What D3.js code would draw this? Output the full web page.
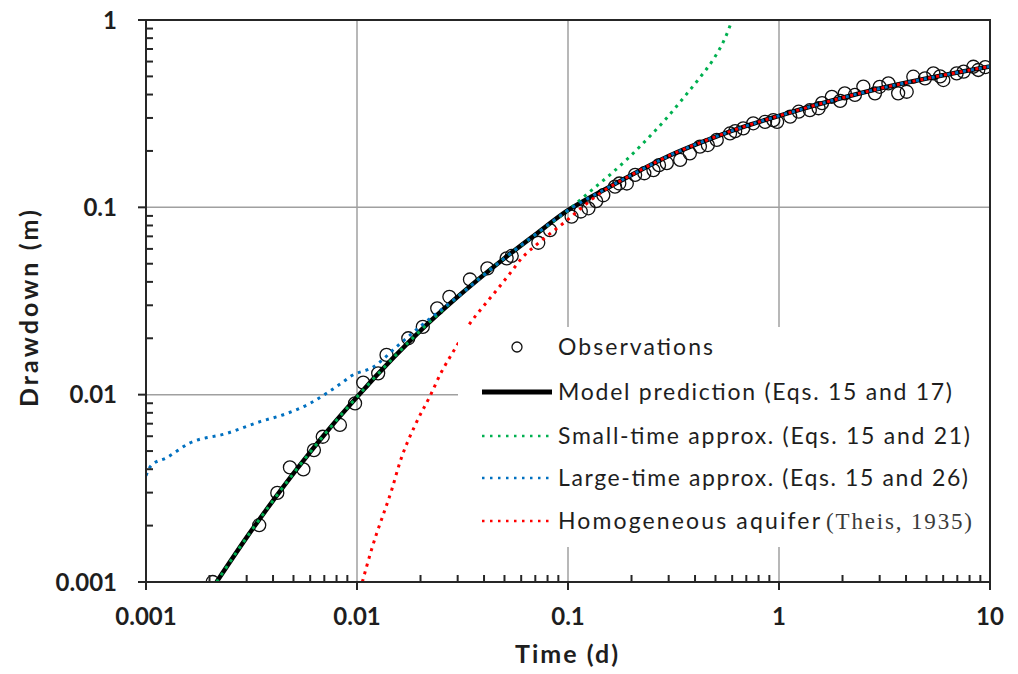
<!DOCTYPE html>
<html>
<head>
<meta charset="utf-8">
<script src="https://cdn.jsdelivr.net/npm/d3@7/dist/d3.min.js"></script>
<style>
  html, body { margin: 0; padding: 0; background: #fff; }
  svg { display: block; }
</style>
</head>
<body>
<svg id="chart" width="1018" height="674"></svg>
<script>
// ---------- DATA ----------
const xTickValues = [0.001, 0.01, 0.1, 1, 10];
const xTickLabels = ["0.001", "0.01", "0.1", "1", "10"];
const yTickValues = [0.001, 0.01, 0.1, 1];
const yTickLabels = ["0.001", "0.01", "0.1", "1"];

// Observations (time in d, drawdown in m)
const obsTime = [0.00207, 0.00344, 0.00419, 0.00481, 0.00557, 0.00625, 0.00688, 0.0083, 0.00979, 0.0107,
  0.0126, 0.0138, 0.0175, 0.0205, 0.024, 0.0274, 0.0343, 0.0415, 0.0512, 0.0541, 0.0723, 0.0822,
  0.104, 0.115, 0.125, 0.136, 0.147, 0.167, 0.175, 0.19, 0.208, 0.23, 0.254, 0.27, 0.294, 0.34, 0.378,
  0.422, 0.46, 0.507, 0.586, 0.62, 0.677, 0.755, 0.859, 0.94, 0.98, 1.13, 1.24, 1.4, 1.54, 1.6, 1.78,
  1.95, 2.05, 2.29, 2.51, 2.85, 3.0, 3.3, 3.67, 4.03, 4.33, 4.92, 5.39, 5.8, 6.01, 6.95, 7.5, 8.34, 8.8, 9.5];
const obsDrawdown = [0.001, 0.00201, 0.00299, 0.00409, 0.00399, 0.00506, 0.00596, 0.00689, 0.00898, 0.0116,
  0.013, 0.0163, 0.020, 0.023, 0.0289, 0.0333, 0.0412, 0.0472, 0.0534, 0.055, 0.0647, 0.0756,
  0.0891, 0.095, 0.0988, 0.108, 0.116, 0.129, 0.134, 0.134, 0.149, 0.152, 0.158, 0.168, 0.172, 0.179, 0.194,
  0.211, 0.215, 0.229, 0.248, 0.255, 0.264, 0.281, 0.286, 0.292, 0.286, 0.305, 0.324, 0.33, 0.338, 0.36, 0.389,
  0.37, 0.406, 0.398, 0.441, 0.406, 0.44, 0.459, 0.406, 0.414, 0.498, 0.488, 0.519, 0.5, 0.478, 0.519, 0.53, 0.563, 0.541, 0.56];

// Model prediction (Eqs. 15 and 17)
const modelTime = [0.00216, 0.003, 0.004, 0.005, 0.006, 0.007, 0.008, 0.01, 0.015, 0.02, 0.03, 0.05, 0.07,
  0.1, 0.15, 0.2, 0.3, 0.5, 0.7, 1, 2, 3, 5, 7, 10];
const modelDrawdown = [0.001, 0.00173, 0.00272, 0.0038, 0.00494, 0.00611, 0.00731, 0.00973, 0.0159, 0.022, 0.0333, 0.0535, 0.0715,
  0.0965, 0.125, 0.149, 0.188, 0.238, 0.272, 0.308, 0.3845, 0.4307, 0.487, 0.5245, 0.5655];

// Small-time approx. (Eqs. 15 and 21)
const smallTime = [0.00216, 0.003, 0.004, 0.005, 0.006, 0.007, 0.008, 0.01, 0.015, 0.02, 0.03, 0.05, 0.07,
  0.1, 0.13, 0.16, 0.19, 0.22, 0.25, 0.29, 0.35, 0.42, 0.49, 0.555, 0.6];
const smallDrawdown = [0.001, 0.00173, 0.00272, 0.0038, 0.00494, 0.00611, 0.00731, 0.00973, 0.0159, 0.022, 0.0333, 0.0535, 0.0715,
  0.0965, 0.124, 0.151, 0.18, 0.212, 0.246, 0.295, 0.38, 0.49, 0.62, 0.8, 1.0];

// Large-time approx. (Eqs. 15 and 26)
const largeTime = [0.001, 0.00106, 0.00125, 0.0016, 0.0024, 0.0035, 0.0046, 0.006, 0.0072, 0.0086, 0.0093,
  0.012, 0.0154, 0.02, 0.03, 0.05, 0.07, 0.1, 0.15, 0.2, 0.3, 0.5, 0.7, 1, 2, 3, 5, 7, 10];
const largeDrawdown = [0.0037, 0.0042, 0.0046, 0.0055, 0.0062, 0.0072, 0.0079, 0.0090, 0.0102, 0.0117, 0.0125,
  0.0141, 0.018, 0.0232, 0.0333, 0.0535, 0.0715, 0.0965, 0.125, 0.149, 0.188, 0.238, 0.272, 0.308, 0.3845, 0.4307, 0.487, 0.5245, 0.5655];

// Homogeneous aquifer (Theis, 1935)
const theisTime = [0.0106, 0.0117, 0.0124, 0.0133, 0.0146, 0.016, 0.019, 0.0222, 0.0252, 0.0276, 0.0295, 0.0343,
  0.039, 0.0467, 0.0531, 0.0603, 0.0737, 0.095, 0.142, 0.2, 0.3, 0.5, 0.7, 1, 2, 3, 5, 7, 10];
const theisDrawdown = [0.001, 0.00148, 0.00182, 0.00228, 0.0031, 0.00438, 0.0070, 0.00984, 0.0133, 0.0159, 0.018, 0.024,
  0.0289, 0.037, 0.0444, 0.0534, 0.0655, 0.0822, 0.119, 0.149, 0.188, 0.238, 0.272, 0.308, 0.3845, 0.4307, 0.487, 0.5245, 0.5655];

const legendLabels = ["Observations", "Model prediction (Eqs. 15 and 17)", "Small-time approx. (Eqs. 15 and 21)",
  "Large-time approx. (Eqs. 15 and 26)", "Homogeneous aquifer"];
const legendCitation = "(Theis, 1935)";
const xTitle = "Time (d)";
const yTitle = "Drawdown (m)";

// ---------- DRAWING ----------
const svg = d3.select("#chart");
const L = 146, R = 990, T = 20, B = 582;
const x = d3.scaleLog().domain([0.001, 10]).range([L, R]);
const y = d3.scaleLog().domain([0.001, 1]).range([B, T]);

const axisColor = "#262626";
const gridColor = "#a0a0a0";
const textColor = "#1e1e1e";
const font = "Lato, 'Open Sans', sans-serif";

svg.append("defs").append("clipPath").attr("id", "plotclip")
  .append("rect").attr("x", L).attr("y", T).attr("width", R - L).attr("height", B - T);

// gridlines
const grid = svg.append("g");
xTickValues.slice(1, -1).forEach(v => {
  grid.append("line").attr("x1", x(v)).attr("x2", x(v)).attr("y1", T).attr("y2", B)
    .attr("stroke", gridColor).attr("stroke-width", 1.5);
});
yTickValues.slice(1, -1).forEach(v => {
  grid.append("line").attr("x1", L).attr("x2", R).attr("y1", y(v)).attr("y2", y(v))
    .attr("stroke", gridColor).attr("stroke-width", 1.5);
});

// data
const plot = svg.append("g").attr("clip-path", "url(#plotclip)");
const line = d3.line().x(d => x(d[0])).y(d => y(d[1])).curve(d3.curveMonotoneX);
const zip = (a, b) => a.map((v, i) => [v, b[i]]);

plot.selectAll("circle.obs").data(zip(obsTime, obsDrawdown)).enter().append("circle")
  .attr("class", "obs")
  .attr("cx", d => x(d[0])).attr("cy", d => y(d[1])).attr("r", 6.5)
  .attr("fill", "none").attr("stroke", "#111").attr("stroke-width", 1.3);

plot.append("path").datum(zip(modelTime, modelDrawdown)).attr("d", line)
  .attr("fill", "none").attr("stroke", "#000").attr("stroke-width", 4.5);

const dotted = [
  { t: smallTime, d: smallDrawdown, c: "#00b050" },
  { t: largeTime, d: largeDrawdown, c: "#0070c0" },
  { t: theisTime, d: theisDrawdown, c: "#ff0000" }
];
dotted.forEach(s => {
  plot.append("path").datum(zip(s.t, s.d)).attr("d", line)
    .attr("fill", "none").attr("stroke", s.c).attr("stroke-width", 3)
    .attr("stroke-dasharray", "3,5");
});

// legend (white box over the plot)
const leg = svg.append("g");
leg.append("rect").attr("x", 458).attr("y", 327).attr("width", 531).attr("height", 220).attr("fill", "#fff");
const rowsY = [347, 392, 436, 478, 521];
const textLens = [155, 394, 412, 410, 262];
leg.append("circle").attr("cx", 517).attr("cy", rowsY[0]).attr("r", 5)
  .attr("fill", "none").attr("stroke", "#111").attr("stroke-width", 1.3);
leg.append("line").attr("x1", 482).attr("x2", 552).attr("y1", rowsY[1]).attr("y2", rowsY[1])
  .attr("stroke", "#000").attr("stroke-width", 5);
dotted.forEach((s, i) => {
  leg.append("line").attr("x1", 482).attr("x2", 552).attr("y1", rowsY[i + 2]).attr("y2", rowsY[i + 2])
    .attr("stroke", s.c).attr("stroke-width", 2.5).attr("stroke-dasharray", "2.5,5.5");
});
legendLabels.forEach((txt, i) => {
  leg.append("text").attr("x", 558).attr("y", rowsY[i]).attr("dy", "0.36em")
    .attr("font-family", font).attr("font-size", 23).attr("fill", textColor)
    .attr("textLength", textLens[i]).attr("lengthAdjust", "spacing")
    .text(txt);
});
leg.append("text").attr("x", 826).attr("y", rowsY[4]).attr("dy", "0.36em")
  .attr("font-family", "'Liberation Serif', 'DejaVu Serif', serif").attr("font-size", 23).attr("fill", "#3a3a3a")
  .attr("textLength", 146).attr("lengthAdjust", "spacing")
  .text(legendCitation);

// frame
const frame = svg.append("g");
frame.append("rect").attr("x", L).attr("y", T).attr("width", R - L).attr("height", B - T)
  .attr("fill", "none").attr("stroke", axisColor).attr("stroke-width", 2);

// minor and major ticks
for (let dec = 0.001; dec < 10; dec *= 10) {
  for (let m = 2; m <= 9; m++) {
    const v = dec * m;
    frame.append("line").attr("x1", x(v)).attr("x2", x(v)).attr("y1", B).attr("y2", B - 7)
      .attr("stroke", axisColor).attr("stroke-width", 2);
  }
}
for (let dec = 0.001; dec < 1; dec *= 10) {
  for (let m = 2; m <= 9; m++) {
    const v = dec * m;
    frame.append("line").attr("x1", L).attr("x2", L + 7).attr("y1", y(v)).attr("y2", y(v))
      .attr("stroke", axisColor).attr("stroke-width", 2);
  }
}
xTickValues.forEach(v => {
  frame.append("line").attr("x1", x(v)).attr("x2", x(v)).attr("y1", B).attr("y2", B + 8)
    .attr("stroke", axisColor).attr("stroke-width", 2);
});
yTickValues.forEach(v => {
  frame.append("line").attr("x1", L - 8).attr("x2", L).attr("y1", y(v)).attr("y2", y(v))
    .attr("stroke", axisColor).attr("stroke-width", 2);
});

// tick labels
xTickValues.forEach((v, i) => {
  svg.append("text").attr("x", x(v)).attr("y", 625).attr("text-anchor", "middle")
    .attr("font-family", font).attr("font-weight", "bold").attr("font-size", 24).attr("fill", textColor)
    .text(xTickLabels[i]);
});
yTickValues.forEach((v, i) => {
  svg.append("text").attr("x", 117).attr("y", y(v)).attr("dy", "0.36em").attr("text-anchor", "end")
    .attr("font-family", font).attr("font-weight", "bold").attr("font-size", 24).attr("fill", textColor)
    .text(yTickLabels[i]);
});

// axis titles
svg.append("text").attr("x", 515).attr("y", 663)
  .attr("font-family", font).attr("font-weight", "bold").attr("font-size", 25).attr("fill", textColor)
  .attr("textLength", 103).attr("lengthAdjust", "spacing")
  .text(xTitle);
svg.append("text").attr("transform", "translate(38,407) rotate(-90)")
  .attr("font-family", font).attr("font-weight", "bold").attr("font-size", 25).attr("fill", textColor)
  .attr("textLength", 197).attr("lengthAdjust", "spacing")
  .text(yTitle);
</script>
</body>
</html>
